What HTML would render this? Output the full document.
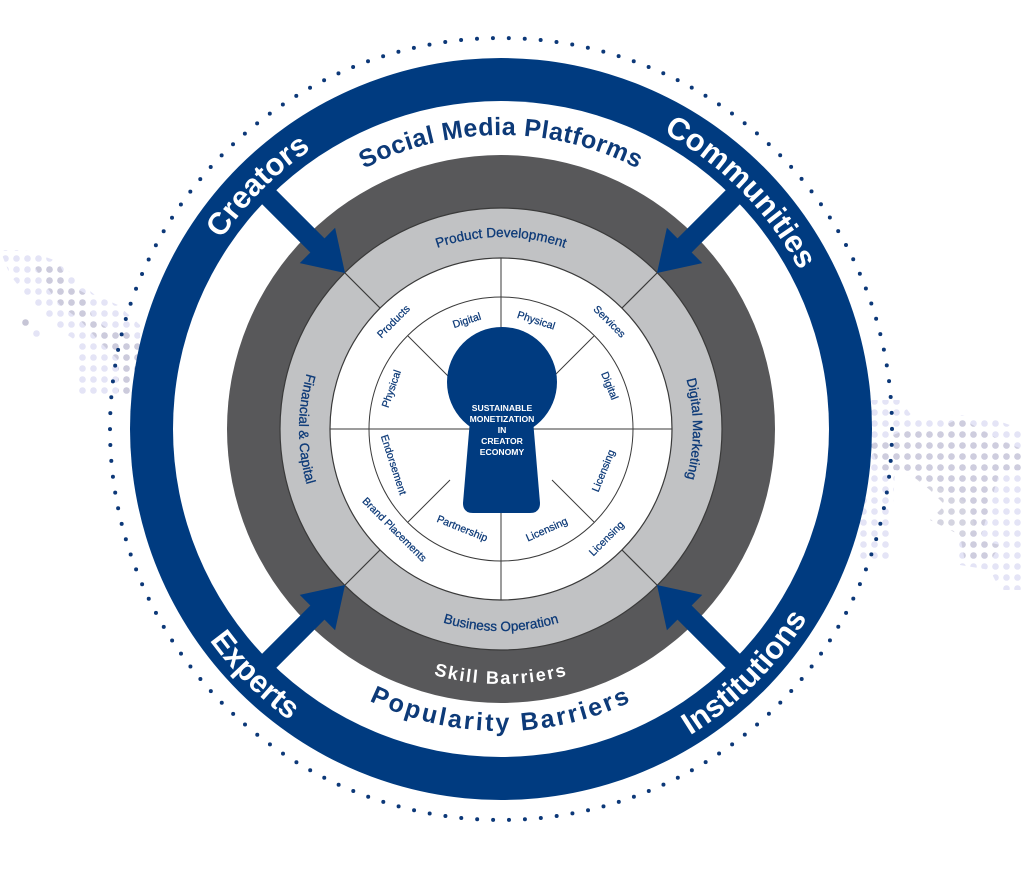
<!DOCTYPE html>
<html><head><meta charset="utf-8"><style>
html,body{margin:0;padding:0;background:#fff;}
svg{display:block;}
text{font-family:"Liberation Sans",sans-serif;}
</style></head><body>
<svg width="1024" height="880" viewBox="0 0 1024 880" xmlns="http://www.w3.org/2000/svg">
<defs>
<pattern id="pl" x="0" y="0" width="11" height="11" patternUnits="userSpaceOnUse"><circle cx="5.5" cy="5.5" r="3.3" fill="#e4e4f6"/></pattern>
<pattern id="pg" x="0" y="0" width="11" height="11" patternUnits="userSpaceOnUse"><circle cx="5.5" cy="5.5" r="3.3" fill="#c6c5d6"/></pattern>
<path id="cw338" d="M163,429 A338,338 0 1 1 839,429 A338,338 0 1 1 163,429"/>
<path id="ccw360" d="M141,429 A360,360 0 1 0 861,429 A360,360 0 1 0 141,429"/>
<path id="cw294" d="M207,429 A294,294 0 1 1 795,429 A294,294 0 1 1 207,429"/>
<path id="ccw302" d="M199,429 A302,302 0 1 0 803,429 A302,302 0 1 0 199,429"/>
<path id="ccw255" d="M246,429 A255,255 0 1 0 756,429 A255,255 0 1 0 246,429"/>
<path id="cw192" d="M309,429 A192,192 0 1 1 693,429 A192,192 0 1 1 309,429"/>
<path id="ccw202" d="M299,429 A202,202 0 1 0 703,429 A202,202 0 1 0 299,429"/>
<path id="ccwTop202" d="M501,227 A202,202 0 1 0 501,631 A202,202 0 1 0 501,227"/>
<g id="arrow"><path d="M0,0 L-39,-25 L-39,-10 L-150,-10 L-150,10 L-39,10 L-39,25 Z" fill="#003b80"/></g>
</defs>

<polygon points="0,250 25,250 60,262 80,283 95,295 118,305 140,325 140,395 75,395 75,340 60,330 30,300 10,275" fill="url(#pl)"/>
<polygon points="32,262 58,262 70,285 88,295 92,318 110,330 125,330 140,345 140,395 118,395 118,360 98,340 80,320 60,305 45,285" fill="url(#pg)" opacity="0.8"/>
<circle cx="25.5" cy="322.5" r="3.3" fill="#c6c5d6"/>
<circle cx="36.5" cy="333.5" r="3.3" fill="#e4e4f6"/>
<polygon points="860,400 900,400 915,420 960,415 990,418 1024,430 1024,590 1000,590 990,570 960,565 955,540 975,530 970,505 945,490 920,480 895,470 890,560 860,560" fill="url(#pl)"/>
<polygon points="905,430 935,430 960,418 1000,440 1024,450 1024,470 1000,470 990,505 980,540 1000,545 990,562 965,562 960,535 930,520 945,505 930,490 905,470 880,470 870,445" fill="url(#pg)" opacity="0.75"/>

<circle cx="501" cy="429" r="391" fill="none" stroke="#0c3878" stroke-width="4" stroke-linecap="round" stroke-dasharray="0 15.95"/>

<circle cx="501" cy="429" r="371" fill="#003b80"/>
<circle cx="501" cy="429" r="328" fill="#fff"/>
<circle cx="501" cy="429" r="274" fill="#58585a"/>
<circle cx="501" cy="429" r="221" fill="#c1c2c4" stroke="#3a3a3a" stroke-width="1.2"/>
<circle cx="501" cy="429" r="171" fill="#fff" stroke="#3a3a3a" stroke-width="1.2"/>
<circle cx="501" cy="429" r="132" fill="none" stroke="#3a3a3a" stroke-width="1"/>

<g stroke="#3a3a3a" stroke-width="1.2">
<line x1="345" y1="273" x2="380" y2="308"/>
<line x1="657" y1="273" x2="622" y2="308"/>
<line x1="345" y1="585" x2="380" y2="550"/>
<line x1="657" y1="585" x2="622" y2="550"/>
</g>
<g stroke="#3a3a3a" stroke-width="1">
<line x1="330" y1="429" x2="672" y2="429"/>
<line x1="501" y1="258" x2="501" y2="600"/>
<line x1="408" y1="336" x2="450" y2="378"/>
<line x1="594" y1="336" x2="552" y2="378"/>
<line x1="408" y1="522" x2="450" y2="480"/>
<line x1="594" y1="522" x2="552" y2="480"/>
</g>

<g fill="#003b80">
<circle cx="502" cy="382" r="55"/>
<path d="M470,420 L463,503 Q463,513 473,513 L530,513 Q540,513 540,503 L533,420 Z"/>
</g>
<g fill="#fff" font-size="8.6" font-weight="bold" text-anchor="middle">
<text x="502" y="411">SUSTAINABLE</text>
<text x="502" y="422">MONETIZATION</text>
<text x="502" y="433">IN</text>
<text x="502" y="444">CREATOR</text>
<text x="502" y="455">ECONOMY</text>
</g>

<use href="#arrow" transform="translate(345,273) rotate(45)"/>
<use href="#arrow" transform="translate(657,273) rotate(135)"/>
<use href="#arrow" transform="translate(345,585) rotate(-45)"/>
<use href="#arrow" transform="translate(657,585) rotate(-135)"/>

<g fill="#fff" font-size="31" font-weight="bold" text-anchor="middle">
<text><textPath href="#cw338" startOffset="12.5%">Creators</textPath></text>
<text><textPath href="#cw338" startOffset="37.6%">Communities</textPath></text>
<text><textPath href="#ccw360" startOffset="12.5%">Experts</textPath></text>
<text><textPath href="#ccw360" startOffset="37.5%">Institutions</textPath></text>
</g>
<g fill="#0d3a78" font-size="25" font-weight="bold" text-anchor="middle">
<text letter-spacing="0.5"><textPath href="#cw294" startOffset="25%">Social Media Platforms</textPath></text>
<text letter-spacing="2.5"><textPath href="#ccw302" startOffset="25%">Popularity Barriers</textPath></text>
</g>
<text fill="#fff" font-size="18" font-weight="bold" text-anchor="middle" letter-spacing="1.8"><textPath href="#ccw255" startOffset="25%">Skill Barriers</textPath></text>

<g fill="#0d3a78" font-size="13.5" text-anchor="middle" stroke="#0d3a78" stroke-width="0.3">
<text><textPath href="#cw192" startOffset="25%">Product Development</textPath></text>
<text><textPath href="#cw192" startOffset="50%">Digital Marketing</textPath></text>
<text><textPath href="#ccw202" startOffset="25%">Business Operation</textPath></text>
<text><textPath href="#ccwTop202" startOffset="25%">Financial &amp; Capital</textPath></text>
</g>

<g fill="#0d3a78" font-size="10.5" text-anchor="middle" dominant-baseline="middle" stroke="#0d3a78" stroke-width="0.25">
<text transform="translate(394,322) rotate(-45)">Products</text>
<text transform="translate(609,322) rotate(45)">Services</text>
<text transform="translate(394,530) rotate(45)">Brand Placements</text>
<text transform="translate(607,539) rotate(-45)">Licensing</text>
<text transform="translate(467,321) rotate(-18)">Digital</text>
<text transform="translate(536,321) rotate(18)">Physical</text>
<text transform="translate(609,386) rotate(68)">Digital</text>
<text transform="translate(604,471) rotate(-68)">Licensing</text>
<text transform="translate(547,530) rotate(-24)">Licensing</text>
<text transform="translate(462,529) rotate(22)">Partnership</text>
<text transform="translate(393,465) rotate(72)">Endorsement</text>
<text transform="translate(392,389) rotate(-71)">Physical</text>
</g>
</svg>
</body></html>
